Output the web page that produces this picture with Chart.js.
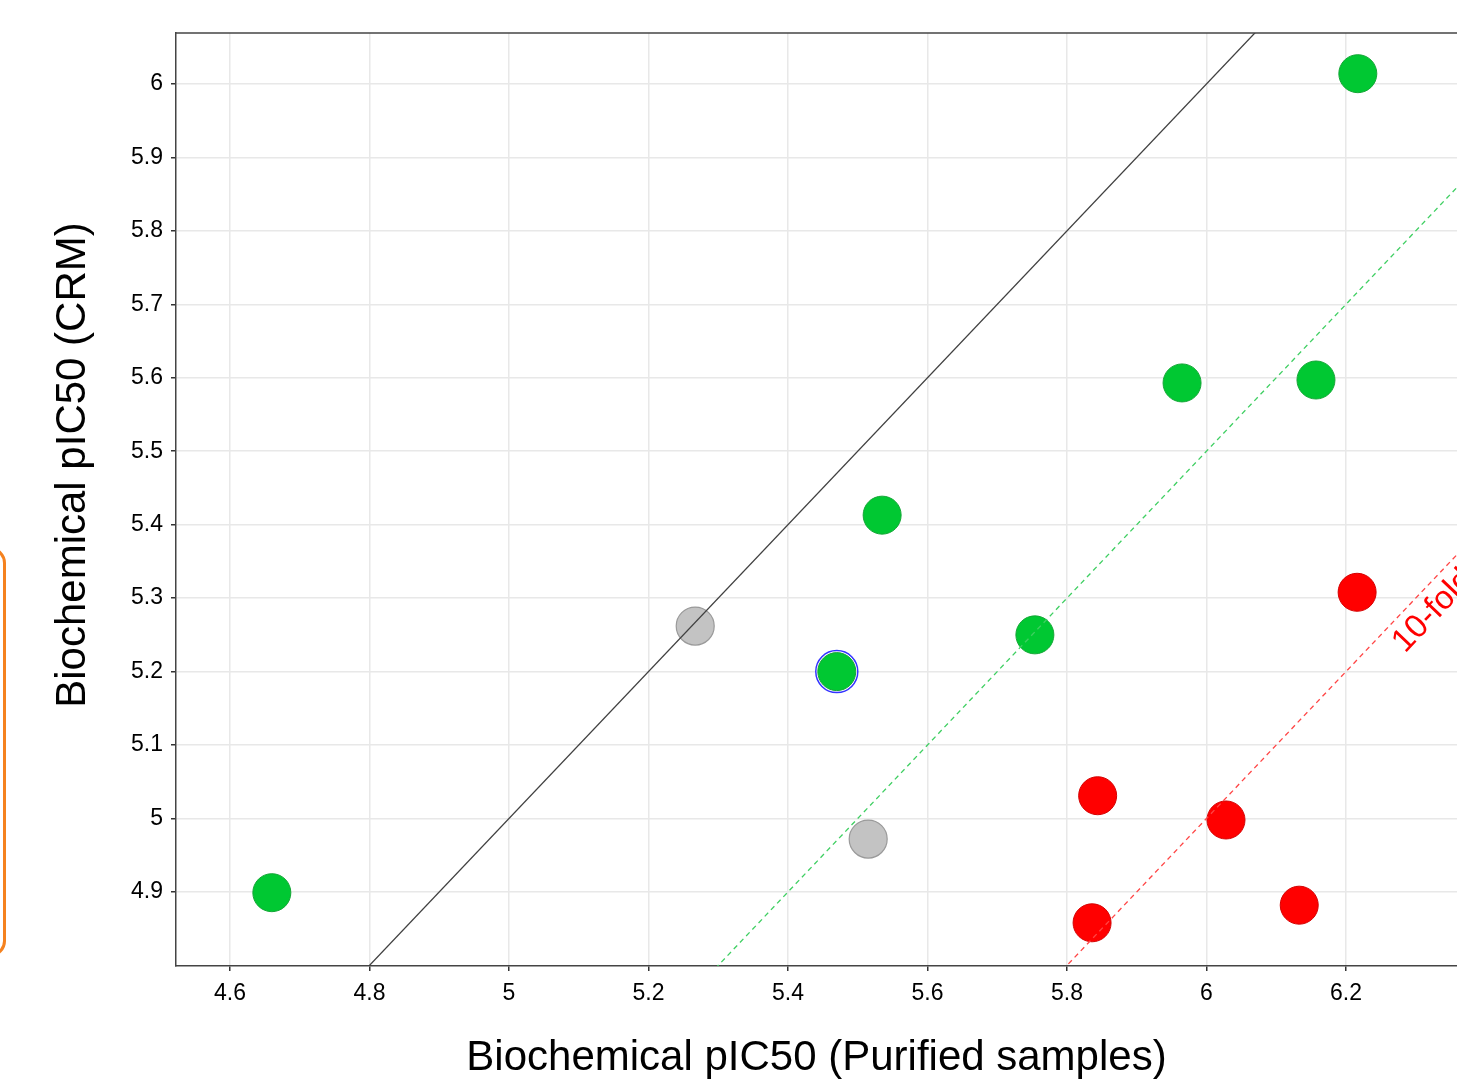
<!DOCTYPE html>
<html>
<head>
<meta charset="utf-8">
<script src="https://cdn.jsdelivr.net/npm/chart.js@4"></script>
<style>
  html, body { margin: 0; padding: 0; background: #fff; overflow: hidden; }
  #wrap { position: relative; width: 1457px; height: 1079px; }
  #frame { position: absolute; left: -30px; top: 547px; width: 30px; height: 404px;
           border: 3px solid #f5821f; border-radius: 16px; }
</style>
</head>
<body>
<div id="wrap">
  <canvas id="scatterChart" width="1457" height="1079"></canvas>
  <div id="frame"></div>
</div>
<script>
// axis ranges and ticks
const xMin = 4.5226, xMax = 6.3592;
const yMin = 4.7992, yMax = 6.0694;
const xTicks = [4.6, 4.8, 5.0, 5.2, 5.4, 5.6, 5.8, 6.0, 6.2];
const yTicks = [4.9, 5.0, 5.1, 5.2, 5.3, 5.4, 5.5, 5.6, 5.7, 5.8, 5.9, 6.0];

// compounds: purified pIC50 (x) vs CRM pIC50 (y)
const greenX = [4.66, 5.47, 5.535, 5.754, 5.965, 6.157, 6.217];
const greenY = [4.899, 5.2, 5.413, 5.25, 5.593, 5.597, 6.014];
const greyX = [5.267, 5.515];
const greyY = [5.262, 4.972];
const redX = [5.844, 6.028, 5.836, 6.133, 6.216];
const redY = [5.031, 4.998, 4.858, 4.882, 5.308];
const ringX = [5.47];
const ringY = [5.2];

// reference lines: y = x - offset
const lineOffsets = [0, 0.5, 1.0];

const toPoints = (xs, ys) => xs.map((x, i) => ({ x: x, y: ys[i] }));
const diagonal = off => [{ x: xMin, y: xMin - off }, { x: xMax, y: xMax - off }];

const FONT = "Arial, 'Liberation Sans', sans-serif";

// draws top frame line, rotated y title and the 10-fold label
const extras = {
  id: 'extras',
  afterDraw(chart) {
    const { ctx, chartArea, scales } = chart;
    ctx.save();
    ctx.strokeStyle = '#444';
    ctx.lineWidth = 1.5;
    ctx.beginPath();
    ctx.moveTo(chartArea.left, chartArea.top);
    ctx.lineTo(chartArea.right, chartArea.top);
    ctx.stroke();

    // y axis title
    ctx.save();
    ctx.translate(73, 465);
    ctx.rotate(-Math.PI / 2);
    ctx.fillStyle = '#000';
    ctx.font = '42px ' + FONT;
    ctx.textAlign = 'center';
    ctx.textBaseline = 'middle';
    ctx.fillText('Biochemical pIC50 (CRM)', 0, 0);
    ctx.restore();

    // 10-fold label along the red line
    const x0 = scales.x.getPixelForValue(6.253);
    const y0 = scales.y.getPixelForValue(6.253 - lineOffsets[2]);
    const x1 = scales.x.getPixelForValue(6.34);
    const y1 = scales.y.getPixelForValue(6.34 - lineOffsets[2]);
    ctx.translate(x0, y0);
    ctx.rotate(Math.atan2(y1 - y0, x1 - x0));
    ctx.fillStyle = '#ff0000';
    ctx.font = '33px ' + FONT;
    ctx.textAlign = 'left';
    ctx.textBaseline = 'top';
    ctx.fillText('10-fold', 0, 5);
    ctx.restore();
  }
};

const ctx = document.getElementById('scatterChart').getContext('2d');
const scatterChart = new Chart(ctx, {
  type: 'scatter',
  data: {
    datasets: [
      {
        label: 'identity',
        data: diagonal(lineOffsets[0]),
        showLine: true,
        borderColor: '#404040',
        borderWidth: 1.3,
        pointRadius: 0,
        order: 0
      },
      {
        label: '3-fold',
        data: diagonal(lineOffsets[1]),
        showLine: true,
        borderColor: '#3fcf62',
        borderWidth: 1.3,
        borderDash: [5, 4],
        pointRadius: 0,
        order: 0
      },
      {
        label: '10-fold',
        data: diagonal(lineOffsets[2]),
        showLine: true,
        borderColor: '#ff4545',
        borderWidth: 1.3,
        borderDash: [5, 4],
        pointRadius: 0,
        order: 0
      },
      {
        label: 'Green',
        data: toPoints(greenX, greenY),
        backgroundColor: '#00c832',
        borderColor: '#14a636',
        borderWidth: 1,
        pointRadius: 19,
        order: 1
      },
      {
        label: 'Grey',
        data: toPoints(greyX, greyY),
        backgroundColor: '#c3c3c3',
        borderColor: '#9a9a9a',
        borderWidth: 1.2,
        pointRadius: 19,
        order: 1
      },
      {
        label: 'Red',
        data: toPoints(redX, redY),
        backgroundColor: '#ff0000',
        borderColor: '#d40000',
        borderWidth: 1,
        pointRadius: 19,
        order: 1
      },
      {
        label: 'Selected',
        data: toPoints(ringX, ringY),
        backgroundColor: '#ffffff',
        borderColor: '#3333ff',
        borderWidth: 1.5,
        pointRadius: 21,
        order: 2
      }
    ]
  },
  options: {
    responsive: false,
    animation: false,
    devicePixelRatio: 1,
    layout: { autoPadding: false, padding: { top: 33, right: 0, bottom: 0, left: 0 } },
    plugins: {
      legend: { display: false },
      tooltip: { enabled: false }
    },
    scales: {
      x: {
        type: 'linear',
        min: xMin,
        max: xMax,
        afterBuildTicks: axis => { axis.ticks = xTicks.map(v => ({ value: v })); },
        afterFit: axis => { axis.height = 113; axis.paddingRight = 0; axis.paddingLeft = 0; },
        ticks: {
          callback: v => String(+v.toFixed(2)),
          color: '#000',
          font: { size: 23, family: FONT },
          padding: 9,
          maxRotation: 0
        },
        grid: { color: '#e8e8e8', lineWidth: 1.5, tickColor: '#333', tickLength: 5 },
        border: { color: '#444', width: 1.5 },
        title: {
          display: true,
          text: 'Biochemical pIC50 (Purified samples)',
          color: '#000',
          font: { size: 42, family: FONT, lineHeight: 1 },
          padding: { top: 0, bottom: 0 }
        }
      },
      y: {
        type: 'linear',
        min: yMin,
        max: yMax,
        afterBuildTicks: axis => { axis.ticks = yTicks.map(v => ({ value: v })); },
        afterFit: axis => { axis.width = 176; axis.paddingTop = 0; axis.paddingBottom = 0; },
        ticks: {
          callback: v => String(+v.toFixed(2)),
          color: '#000',
          font: { size: 23, family: FONT },
          padding: 8
        },
        grid: { color: '#e8e8e8', lineWidth: 1.5, tickColor: '#333', tickLength: 5 },
        border: { color: '#444', width: 1.5 }
      }
    }
  },
  plugins: [extras]
});
</script>
</body>
</html>
